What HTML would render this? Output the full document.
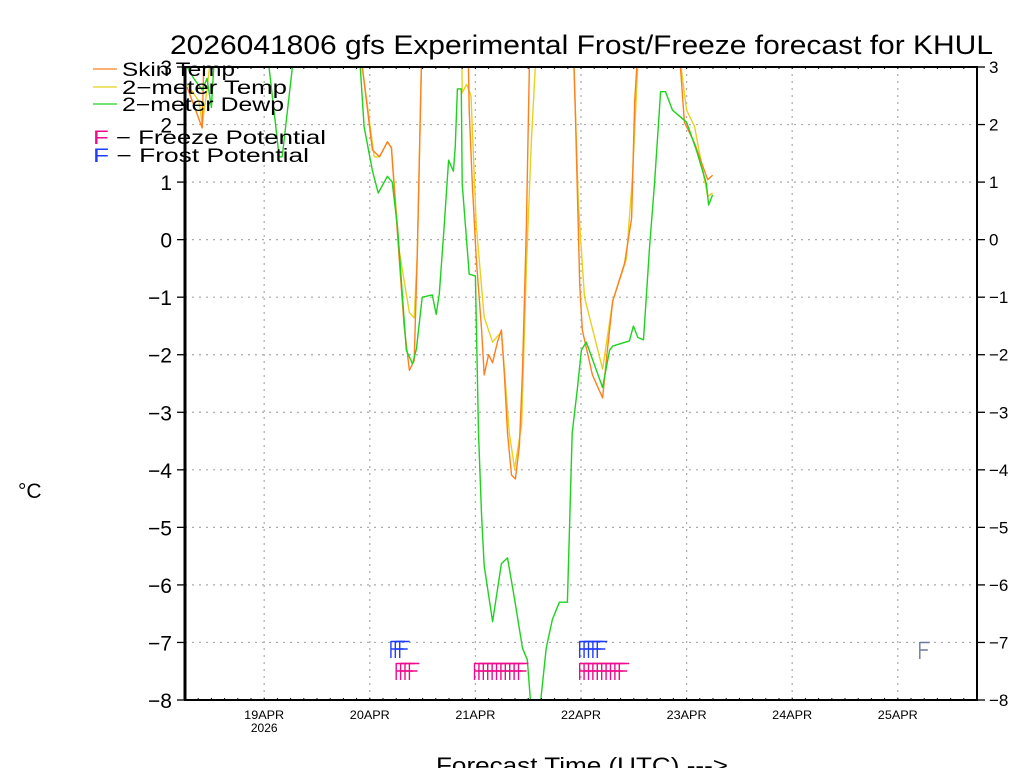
<!DOCTYPE html>
<html><head><meta charset="utf-8"><style>
html,body{margin:0;padding:0;background:#fff;}
svg{display:block;font-family:"Liberation Sans","DejaVu Sans",sans-serif;}
</style></head><body>
<svg id="chart" width="1024" height="768" viewBox="0 0 1024 768" xmlns="http://www.w3.org/2000/svg">
<text x="170" y="54" font-size="27" textLength="823" lengthAdjust="spacingAndGlyphs" fill="#000">2026041806 gfs Experimental Frost/Freeze forecast for KHUL</text>
<g id="grid"></g>
<defs><clipPath id="plotclip"><rect x="185" y="67" width="792" height="633"/></clipPath></defs>
<g id="series" clip-path="url(#plotclip)"></g>
<g id="marks"></g>
<g id="axes"></g>
<text x="18" y="498" font-size="21" fill="#000">°C</text>
<text x="436" y="773" font-size="22" textLength="292" lengthAdjust="spacingAndGlyphs" fill="#000">Forecast Time (UTC) ---&gt;</text>
<g>
<line x1="93" y1="69" x2="117" y2="69" stroke="#ff7f1e" stroke-width="1.3"/>
<text x="122" y="76" font-size="19" textLength="113" lengthAdjust="spacingAndGlyphs" fill="#000">Skin Temp</text>
<line x1="93" y1="87" x2="117" y2="87" stroke="#e6d21e" stroke-width="1.3"/>
<text x="122" y="94" font-size="19" textLength="165" lengthAdjust="spacingAndGlyphs" fill="#000">2−meter Temp</text>
<line x1="93" y1="104" x2="117" y2="104" stroke="#1ed21e" stroke-width="1.3"/>
<text x="122" y="111" font-size="19" textLength="162" lengthAdjust="spacingAndGlyphs" fill="#000">2−meter Dewp</text>
<text x="93" y="144" font-size="19" textLength="233" lengthAdjust="spacingAndGlyphs" fill="#000" xml:space="preserve"><tspan fill="#f00a8c">F</tspan> − Freeze Potential</text>
<text x="93" y="162" font-size="19" textLength="216" lengthAdjust="spacingAndGlyphs" fill="#000" xml:space="preserve"><tspan fill="#1e3cff">F</tspan> − Frost Potential</text>
</g>
</svg>
<script>
// hours since 19APR 00Z
const skinHours=[-17.5,-14.1,-13.6,-11,20,22.3,24.6,26.2,28,28.9,30.7,31.8,33,34.1,34.8,36,46.2,46.6,47.3,48.2,49.4,50,51,51.9,53,53.9,54.6,55.3,56.2,57.1,58,58.7,59.6,60.5,70,70.7,71.7,72.3,74.6,76.9,78,79.2,81.9,83.5,84.2,85.5,94.4,95.5,97.8,100.8,101.9];
const skinTemp=[2.65,1.94,3.5,4,4,3,1.56,1.44,1.7,1.6,-0.35,-1.5,-2.27,-2.1,-0.25,4,4,2.25,0.97,-0.34,-1.57,-2.35,-2.0,-2.14,-1.78,-1.57,-2.35,-3.36,-4.09,-4.16,-3.58,-2.28,0.24,4,4,2.25,-0.77,-1.57,-2.35,-2.75,-1.92,-1.07,-0.41,0.37,2.41,4,3.2,2.04,1.68,1.04,1.12];
const tempHours=[-17.5,-14.8,-14.1,-13,-11,20,22.3,25,26.2,28,28.9,30.7,33,34.1,34.8,36,44.8,45,46,47,48.2,50,51.9,53.9,55.7,56.9,58.5,59.6,60.7,62.3,70,71.4,72.8,76.9,79.2,82.3,83.7,85.5,94.4,96,97.8,100.8,101.9];
const temp2m=[2.7,2.4,2.0,2.6,4,4,3,1.44,1.44,1.7,1.6,-0.2,-1.27,-1.36,-0.25,4,4,2.55,2.7,2.5,0.24,-1.35,-1.78,-1.6,-3.36,-3.98,-3.22,-0.47,1.68,4,4,0.6,-1.0,-2.25,-1.07,-0.34,1.1,4,3.2,2.25,1.97,0.75,0.81];
const dewHours=[-17.5,-16,-14.1,-13,-12,-10.7,0,1.1,3.4,4.1,6.4,7,21,22.7,24.6,25.9,28,29.1,30.3,32.3,33.7,34.6,35.9,38.2,39.1,39.8,40.9,41.9,43,43.4,43.9,44.8,45,46.6,48,48.7,49.4,50,51.9,53.9,55.3,56.9,58.7,59.8,60.7,62.6,64.1,65.5,67.1,68.9,70,71.2,72.1,73.2,76.9,78.5,79.2,83,83.9,84.9,86.2,87.6,88.7,90.1,91.2,92.8,96,98.3,100.5,101,101.9];
const dewp2m=[3.0,2.8,2.6,2.8,2.3,4,4,3,1.44,1.44,3,4,4,1.96,1.2,0.81,1.1,1.0,0.22,-1.92,-2.16,-1.9,-1.0,-0.96,-1.3,-0.94,0.24,1.38,1.19,1.6,2.62,2.62,0.97,-0.6,-0.63,-3.36,-4.8,-5.67,-6.64,-5.63,-5.53,-6.25,-7.1,-7.3,-8.2,-8.2,-7.1,-6.6,-6.3,-6.3,-3.36,-2.57,-1.92,-1.78,-2.57,-1.92,-1.85,-1.76,-1.5,-1.7,-1.74,-0.12,0.97,2.57,2.57,2.25,2.04,1.54,0.97,0.6,0.78];
const frostHours=[28.8,29.8,30.8,71.7,72.7,73.7,74.7,75.7];
const freezeHours=[30,31,32,33,47.8,48.8,49.8,50.8,51.8,52.8,53.8,54.8,55.8,56.8,57.8,71.7,72.7,73.7,74.7,75.7,76.7,77.7,78.7,79.7,80.7];
const extraFrostHours=[149];
const yTicks=[-8,-7,-6,-5,-4,-3,-2,-1,0,1,2,3];
const dayLabels=["19APR","20APR","21APR","22APR","23APR","24APR","25APR"];
const dayHours=[0,24,48,72,96,120,144];

const NS="http://www.w3.org/2000/svg";
const X0=185,X1=977,Y0=67,Y1=700,H0=-18,H1=162,V0=-8,V1=3;
function xs(h){return X0+(h-H0)/(H1-H0)*(X1-X0);}
function ys(v){return Y1-(v-V0)/(V1-V0)*(Y1-Y0);}
function mk(tag,attrs,parent){const e=document.createElementNS(NS,tag);for(const k in attrs)e.setAttribute(k,attrs[k]);parent.appendChild(e);return e;}
const grid=document.getElementById('grid'),axes=document.getElementById('axes'),series=document.getElementById('series'),marks=document.getElementById('marks');

yTicks.forEach(v=>{
  const y=ys(v);
  if(v>V0&&v<V1){const g=mk('line',{x1:X0,x2:X1,y1:y,y2:y,stroke:'#aaa','stroke-width':1.2,'stroke-dasharray':'2,5'},grid);
  
  }
  const lab=(v<0?'−':'')+Math.abs(v);
  const tl=mk('text',{x:172,y:y+8,'font-size':21,'text-anchor':'end',fill:'#000'},axes);tl.textContent=lab;
  
  
  const tr=mk('text',{x:989,y:y+6,'font-size':17,fill:'#000'},axes);tr.textContent=lab;
  
  
  mk('line',{x1:X0-8,x2:X0,y1:y,y2:y,stroke:'#000','stroke-width':1.3},axes);
  mk('line',{x1:X1,x2:X1+8,y1:y,y2:y,stroke:'#000','stroke-width':1.3},axes);
});
dayHours.forEach((h,i)=>{
  const x=xs(h);
  const g=mk('line',{x1:x,x2:x,y1:Y0,y2:Y1,stroke:'#aaa','stroke-width':1.2,'stroke-dasharray':'2,5'},grid);
  
  
  const t=mk('text',{x:x,y:719,'font-size':12,'text-anchor':'middle',fill:'#000',textLength:40,lengthAdjust:'spacingAndGlyphs'},axes);t.textContent=dayLabels[i];
  
  
});
const yr=mk('text',{x:xs(0),y:732,'font-size':12,'text-anchor':'middle',fill:'#000'},axes);yr.textContent='2026';


for(let h=-18;h<=162;h+=3){mk('line',{x1:xs(h),x2:xs(h),y1:Y1-2,y2:Y1,stroke:'#000','stroke-width':1},axes);mk('line',{x1:xs(h),x2:xs(h),y1:Y0,y2:Y0+2,stroke:'#000','stroke-width':1},axes);}
mk('rect',{x:X0,y:Y0,width:X1-X0,height:Y1-Y0,fill:'none',stroke:'#000','stroke-width':2},axes);
mk('line',{x1:X0,x2:X0,y1:Y0,y2:Y1,stroke:'#000','stroke-width':3},axes);

function drawLine(hs,vs,color,name){
  const d=hs.map((h,i)=>(i?'L':'M')+xs(h).toFixed(1)+','+ys(vs[i]).toFixed(1)).join('');
  const p=mk('path',{d:d,fill:'none',stroke:color,'stroke-width':1.4,'stroke-linejoin':'round'},series);
  
  
}
drawLine(tempHours,temp2m,'#e6d21e','series-2m-temp');
drawLine(skinHours,skinTemp,'#ff7f1e','series-skin-temp');
drawLine(dewHours,dewp2m,'#1ed21e','series-2m-dewp');

function drawF(h,top,color,name){
  const x=xs(h);
  const p=mk('path',{d:`M${x},${top}V${top+17}M${x},${top+0.5}H${x+10}M${x},${top+8}H${x+8}`,stroke:color,'stroke-width':1.4,fill:'none'},marks);
  
  
}
frostHours.forEach(h=>drawF(h,641,'#1e3cff','frost-mark'));
freezeHours.forEach(h=>drawF(h,663,'#f00a8c','freeze-mark'));
extraFrostHours.forEach(h=>drawF(h,642,'#6a7a9a','frost-mark-extra'));
</script>
</body></html>
